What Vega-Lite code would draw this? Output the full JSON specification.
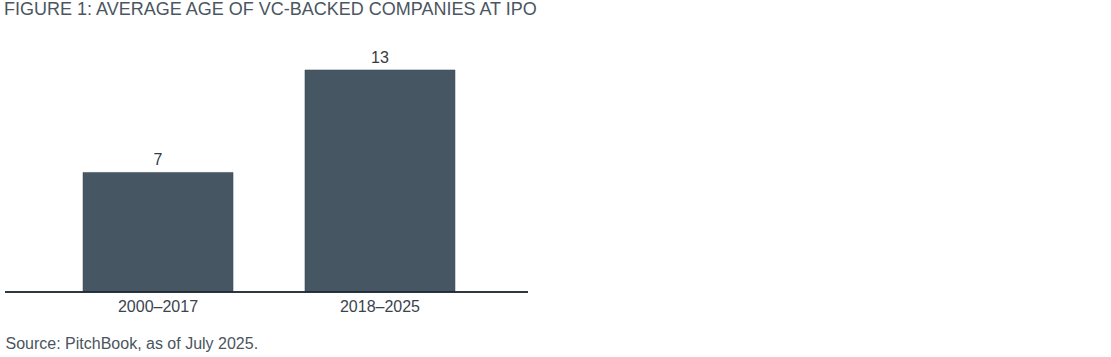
{
  "$schema": "https://vega.github.io/schema/vega-lite/v6.json",
  "autosize": "none",
  "width": 523,
  "height": 247,
  "padding": {"left": 5, "top": 45, "right": 583, "bottom": 65},
  "background": "white",
  "config": {"view": {"stroke": null}, "font": "Liberation Sans"},
  "title": {
    "text": "FIGURE 1: AVERAGE AGE OF VC-BACKED COMPANIES AT IPO",
    "anchor": "start",
    "frame": "group",
    "fontSize": 18,
    "fontWeight": "normal",
    "color": "#4a5661",
    "offset": 26,
    "dx": -1
  },
  "data": {
    "values": [
      {"period": "2000–2017", "age": 7},
      {"period": "2018–2025", "age": 13}
    ]
  },
  "encoding": {
    "y": {
      "field": "age",
      "type": "quantitative",
      "scale": {"domain": [0, 14.46], "nice": false, "zero": true},
      "axis": null
    }
  },
  "layer": [
    {
      "mark": {"type": "bar", "color": "#465663", "stroke": "#3a4955", "strokeWidth": 0.5},
      "encoding": {
        "x": {
          "field": "period",
          "type": "nominal",
          "sort": null,
          "scale": {"range": [78, 450], "paddingInner": 0.324, "paddingOuter": 0},
          "axis": {
            "title": "Source: PitchBook, as of July 2025.",
            "titleAnchor": "start",
            "titleAlign": "left",
            "titleFontSize": 16,
            "titleFontWeight": "normal",
            "titleColor": "#4a5560",
            "titlePadding": 21,
            "titleX": 0,
            "labelAngle": 0,
            "labelFontSize": 16,
            "labelColor": "#3a4450",
            "labelPadding": 6,
            "ticks": false,
            "domain": false
          }
        }
      }
    },
    {
      "mark": {"type": "text", "baseline": "bottom", "dy": -4, "fontSize": 16, "color": "#333b44"},
      "encoding": {
        "x": {"field": "period", "type": "nominal", "sort": null},
        "text": {"field": "age", "type": "quantitative"}
      }
    },
    {
      "mark": {"type": "rule", "color": "#1f2b36", "strokeWidth": 1.5},
      "encoding": {"y": {"datum": 0}}
    }
  ]
}
